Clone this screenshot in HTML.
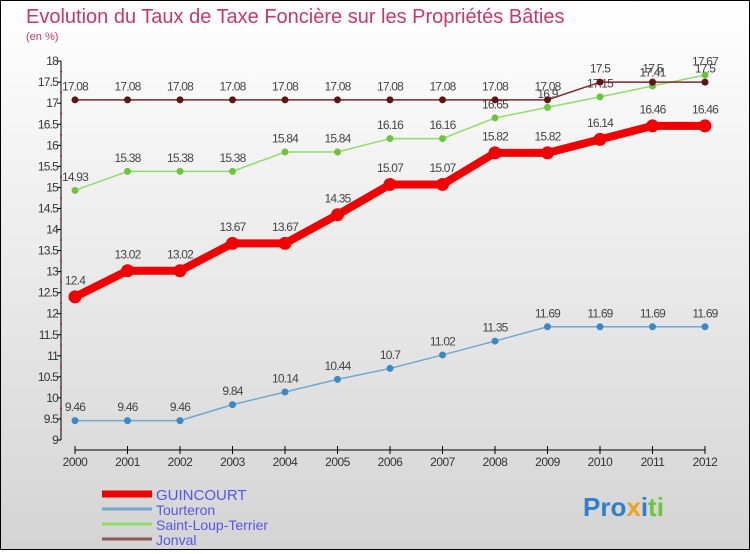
<!DOCTYPE html>
<html><head><meta charset="utf-8"><style>
body{margin:0;width:750px;height:550px;overflow:hidden;font-family:"Liberation Sans",sans-serif}
#wrap{position:relative;width:748px;height:548px;border:1px solid #000;background:linear-gradient(#fff,#d4d4d4)}
</style></head><body>
<div id="wrap">
<svg id="chart" width="748" height="548">
<text x="25" y="22" font-size="20" fill="#c8386a">Evolution du Taux de Taxe Foncière sur les Propriétés Bâties</text>
<text x="25" y="39" font-size="11" fill="#c8386a">(en %)</text>
</svg>
</div>
<script>
const years=[2000,2001,2002,2003,2004,2005,2006,2007,2008,2009,2010,2011,2012];
const guincourt=[12.4,13.02,13.02,13.67,13.67,14.35,15.07,15.07,15.82,15.82,16.14,16.46,16.46];
const tourteron=[9.46,9.46,9.46,9.84,10.14,10.44,10.7,11.02,11.35,11.69,11.69,11.69,11.69];
const saintLoup=[14.93,15.38,15.38,15.38,15.84,15.84,16.16,16.16,16.65,16.9,17.15,17.41,17.67];
const jonval=[17.08,17.08,17.08,17.08,17.08,17.08,17.08,17.08,17.08,17.08,17.5,17.5,17.5];
const yTicks=[9,9.5,10,10.5,11,11.5,12,12.5,13,13.5,14,14.5,15,15.5,16,16.5,17,17.5,18];
const seriesNames=["GUINCOURT","Tourteron","Saint-Loup-Terrier","Jonval"];
const NS="http://www.w3.org/2000/svg";
const svg=document.getElementById('chart');
const x=i=>74+i*52.5;
const y=v=>439-(v-9)*42.1;
function mk(t,a,p){const e=document.createElementNS(NS,t);for(const k in a)e.setAttribute(k,a[k]);(p||svg).appendChild(e);return e;}
let ax=mk('line',{x1:60,y1:y(18),x2:60,y2:y(9),stroke:'#000','stroke-width':1});


yTicks.forEach((v,k)=>{
 mk('line',{x1:56,x2:60,y1:y(v),y2:y(v),stroke:'#000'});
 if(k<yTicks.length-1) mk('line',{x1:59,x2:61,y1:y(v+0.25),y2:y(v+0.25),stroke:'#e00'});
 const t=mk('text',{x:57,y:y(v)+4,'font-size':12,fill:'#333','text-anchor':'end','letter-spacing':'-0.8'});
 t.textContent=String(v);
 
 
});
let xa=mk('line',{x1:74,y1:449,x2:x(12),y2:449,stroke:'#000'});


years.forEach((yr,i)=>{
 mk('line',{x1:x(i),x2:x(i),y1:445,y2:453,stroke:'#000'});
 const t=mk('text',{x:x(i),y:465,'font-size':12,fill:'#333','text-anchor':'middle','letter-spacing':'-0.5'});
 t.textContent=yr;
 
 
});
function series(vals,color,dot,w,r,name){
 const g=mk('g',{});
 
 
 mk('polyline',{points:vals.map((v,i)=>x(i)+','+y(v)).join(' '),fill:'none',stroke:color,'stroke-width':w,'stroke-linejoin':'round'},g);
 vals.forEach((v,i)=>{
  const c=mk('circle',{cx:x(i),cy:y(v),r:r,fill:dot},g);
  
  
  const t=mk('text',{x:x(i),y:y(v)-(r+6),'font-size':12,fill:'#444','text-anchor':'middle','letter-spacing':'-0.8'},g);
  t.textContent=v;
  
  
 });
}
series(tourteron,'#6fa8d0','#3a8ac8',1.5,3.5,'tourteron-series');
series(saintLoup,'#8fdc6a','#6cc63c',1.5,3.5,'saint-loup-terrier-series');
series(jonval,'#7a2a2a','#5e1414',1.5,3.5,'jonval-series');
series(guincourt,'#f00000','#f00000',8,6.5,'guincourt-series');
const lc=[['#ee0000',7],['#6fa8d0',3],['#8fdc6a',3],['#8a5858',3]];
seriesNames.forEach((n,i)=>{
 const yy=493+i*15;
 const l=mk('line',{x1:101,x2:151,y1:yy,y2:yy,stroke:lc[i][0],'stroke-width':lc[i][1]});
 
 
 const t=mk('text',{x:155,y:yy+6,'font-size':i==0?15:14,fill:'#5555ee'});
 t.textContent=n;
 
 
});
const logo=mk('text',{x:582,y:515,'font-size':26,'font-weight':'bold',fill:'#3a8ac8'});
logo.innerHTML='<tspan fill="#2f7fcf">Pro</tspan><tspan fill="#f0a020">x</tspan><tspan fill="#2f7fcf">i</tspan><tspan fill="#6cc63c">ti</tspan>';


</script>
</body></html>
